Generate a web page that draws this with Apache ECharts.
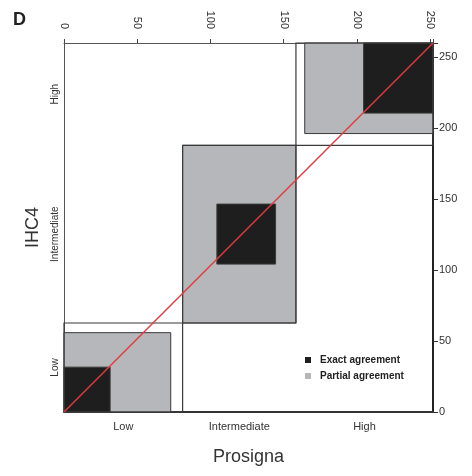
<!DOCTYPE html>
<html><head><meta charset="utf-8">
<script src="https://cdn.jsdelivr.net/npm/echarts@6/dist/echarts.min.js"></script>
<style>html,body{margin:0;padding:0;background:#fff}#c{width:472px;height:476px}</style>
</head><body><div id="c"></div>
<script>
// Data
const xMax = 252, yMax = 260;
const tickValues = [0, 50, 100, 150, 200, 250];
const categories = ['Low', 'Intermediate', 'High'];
const xBounds = [0, 81, 158.4, 252];      // Prosigna category boundaries
const yBounds = [0, 62.7, 187.9, 260];    // IHC4 category boundaries
// rects: [x0, x1, y0, y1]
const partialRects = [[0, 72.9, 0, 55.9], [81, 158.4, 62.7, 187.9], [164.4, 252, 196.2, 260]];
const exactRects = [[0, 31.5, 0, 31.6], [104.4, 144.5, 104.2, 146.5], [204.6, 252, 210.6, 260]];
const diagonal = [[0, 0], [252, 260]];

const cellRects = categories.map((c, i) => [xBounds[i], xBounds[i + 1], yBounds[i], yBounds[i + 1]]);
const xCenters = categories.map((c, i) => (xBounds[i] + xBounds[i + 1]) / 2);
const yCenters = categories.map((c, i) => (yBounds[i] + yBounds[i + 1]) / 2);

const FONT = 'Liberation Sans, Arial, Helvetica, sans-serif';

function rectRenderer(fill, stroke, lw) {
  return function (params, api) {
    const p0 = api.coord([api.value(0), api.value(2)]);
    const p1 = api.coord([api.value(1), api.value(3)]);
    return {
      type: 'rect',
      shape: { x: p0[0], y: p1[1], width: p1[0] - p0[0], height: p0[1] - p1[1] },
      style: { fill: fill, stroke: stroke, lineWidth: lw }
    };
  };
}

const chart = echarts.init(document.getElementById('c'));
chart.setOption({
  animation: false,
  backgroundColor: '#fff',
  title: { text: 'D', left: 8, top: 6, textStyle: { fontFamily: FONT, fontSize: 18, fontWeight: 'bold', color: '#222' } },
  legend: {
    orient: 'vertical', left: 300, top: 350, itemWidth: 6, itemHeight: 6, itemGap: 6,
    icon: 'rect',
    data: ['Exact agreement', 'Partial agreement'],
    textStyle: { fontFamily: FONT, fontSize: 10, fontWeight: 'bold', color: '#222', padding: [0, 0, 0, 4] }
  },
  grid: { left: 64, right: 39, top: 43, bottom: 64 },
  xAxis: [
    {
      type: 'value', position: 'top', min: 0, max: xMax, interval: 50,
      axisLine: { show: true, onZero: false, lineStyle: { color: '#555', width: 1 } },
      axisTick: { show: true, length: 4, lineStyle: { color: '#444' } },
      axisLabel: { rotate: 90, margin: 14, fontFamily: FONT, fontSize: 11, color: '#333',
        formatter: v => tickValues.includes(v) ? String(v) : '' },
      splitLine: { show: false }
    },
    {
      type: 'value', position: 'bottom', min: 0, max: xMax,
      name: 'Prosigna', nameLocation: 'middle', nameGap: 36,
      nameTextStyle: { fontFamily: FONT, fontSize: 18, color: '#333' },
      axisLine: { show: true, onZero: false, lineStyle: { color: '#333', width: 2 } },
      axisTick: { show: false },
      axisLabel: { customValues: xCenters, margin: 9, fontFamily: FONT, fontSize: 11, color: '#333',
        formatter: v => categories[xCenters.indexOf(v)] || '' },
      splitLine: { show: false }
    }
  ],
  yAxis: [
    {
      type: 'value', position: 'right', min: 0, max: yMax, interval: 50,
      axisLine: { show: true, onZero: false, lineStyle: { color: '#222', width: 2 } },
      axisTick: { show: true, length: 5, lineStyle: { color: '#333' } },
      axisLabel: { margin: 6, fontFamily: FONT, fontSize: 11, color: '#333',
        formatter: v => tickValues.includes(v) ? String(v) : '' },
      splitLine: { show: false }
    },
    {
      type: 'value', position: 'left', min: 0, max: yMax,
      name: 'IHC4', nameLocation: 'middle', nameGap: 20,
      nameTextStyle: { fontFamily: FONT, fontSize: 18, color: '#333' },
      axisLine: { show: true, onZero: false, lineStyle: { color: '#555', width: 1 } },
      axisTick: { show: false },
      axisLabel: { customValues: yCenters, rotate: 90, margin: 4, fontFamily: FONT, fontSize: 10, color: '#333',
        formatter: v => categories[yCenters.indexOf(v)] || '' },
      splitLine: { show: false }
    }
  ],
  series: [
    {
      name: 'Partial agreement', type: 'custom', xAxisIndex: 0, yAxisIndex: 0,
      itemStyle: { color: '#b6b7bb' },
      renderItem: rectRenderer('#b6b7bb', '#3a3a3a', 1),
      data: partialRects, z: 2
    },
    {
      name: 'Exact agreement', type: 'custom', xAxisIndex: 0, yAxisIndex: 0,
      itemStyle: { color: '#1e1e1e' },
      renderItem: rectRenderer('#1e1e1e', '#3a3a3a', 1),
      data: exactRects, z: 3
    },
    {
      name: 'cells', type: 'custom', xAxisIndex: 0, yAxisIndex: 0,
      renderItem: rectRenderer('none', '#3a3a3a', 1.2),
      data: cellRects, z: 4
    },
    {
      name: 'diagonal', type: 'line', xAxisIndex: 0, yAxisIndex: 0,
      data: diagonal, symbol: 'none', z: 5,
      lineStyle: { color: '#e23a40', width: 1.5 }
    }
  ]
});
</script>
</body></html>
